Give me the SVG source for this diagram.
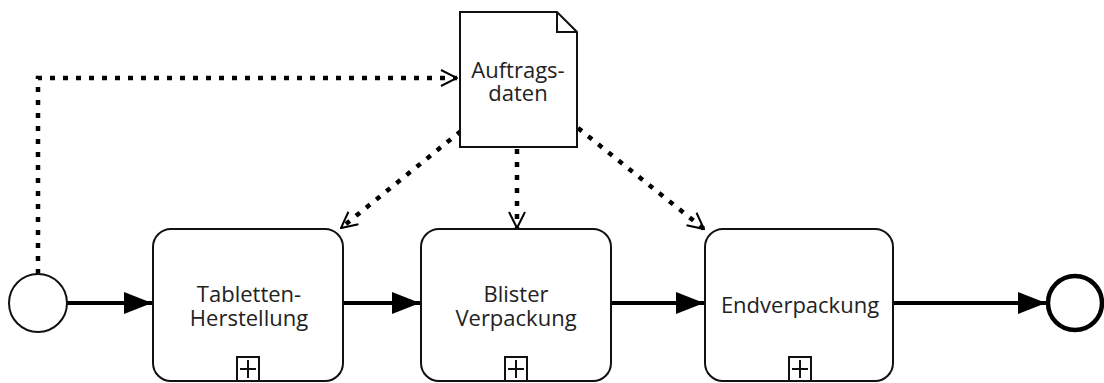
<svg xmlns="http://www.w3.org/2000/svg" width="1104" height="383" viewBox="0 0 1104 383">
<style>
.task{fill:#fff;stroke:#111;stroke-width:2}
.lbl{font-family:"Open Sans","Noto Sans",sans-serif;font-size:22px;fill:#222;text-anchor:middle}
.seq{fill:none;stroke:#000;stroke-width:4}
.assoc{fill:none;stroke:#000;stroke-width:4.5;stroke-dasharray:5 8}
.mk{fill:#fff;stroke:#111;stroke-width:2}
</style>
<defs>
<marker id="fill" viewBox="0 0 28 22" refX="28" refY="11" markerWidth="28" markerHeight="22" markerUnits="userSpaceOnUse" orient="auto">
<path d="M0,0 L28,11 L0,22 Z" fill="#000"/>
</marker>
<marker id="open" viewBox="0 0 18 18" refX="17" refY="9" markerWidth="18" markerHeight="18" markerUnits="userSpaceOnUse" orient="auto">
<path d="M1,1 L17,9 L1,17" fill="none" stroke="#000" stroke-width="2"/>
</marker>
</defs>
<g id="connectors">
<path class="assoc" d="M38,274 L38,78 L457,78" marker-end="url(#open)"/>
<path class="assoc" d="M461,131 L341,228" marker-end="url(#open)"/>
<path class="assoc" d="M517,149 L517,228" marker-end="url(#open)"/>
<path class="assoc" d="M578,128 L704,229" marker-end="url(#open)"/>
<path class="seq" d="M67,303 L152,303" marker-end="url(#fill)"/>
<path class="seq" d="M344,303 L420,303" marker-end="url(#fill)"/>
<path class="seq" d="M612,303 L704,303" marker-end="url(#fill)"/>
<path class="seq" d="M894,303 L1046,303" marker-end="url(#fill)"/>
</g>
<g id="start">
<circle cx="38" cy="303" r="29" fill="#fff" stroke="#111" stroke-width="2"/>
</g>
<g id="end">
<circle cx="1075" cy="303" r="27" fill="#fff" stroke="#000" stroke-width="4.5"/>
</g>
<g id="data">
<path d="M460,12 L557,12 L577,32 L577,147 L460,147 Z" fill="#fff" stroke="#111" stroke-width="2"/>
<path d="M557,12 L557,32 L577,32" fill="none" stroke="#111" stroke-width="2"/>
<text class="lbl" x="518" y="78">Auftrags-</text>
<text class="lbl" x="518" y="101">daten</text>
</g>
<g id="task1">
<rect class="task" x="153" y="229" width="190" height="152" rx="18"/>
<text class="lbl" x="249" y="302">Tabletten-</text>
<text class="lbl" x="249" y="326">Herstellung</text>
<rect class="mk" x="237" y="357" width="22" height="24"/>
<path d="M248,360 V378 M240,369 H256" stroke="#111" stroke-width="2"/>
</g>
<g id="task2">
<rect class="task" x="421" y="229" width="190" height="152" rx="18"/>
<text class="lbl" x="516" y="302">Blister</text>
<text class="lbl" x="516" y="326">Verpackung</text>
<rect class="mk" x="505" y="357" width="22" height="24"/>
<path d="M516,360 V378 M508,369 H524" stroke="#111" stroke-width="2"/>
</g>
<g id="task3">
<rect class="task" x="705" y="229" width="188" height="152" rx="18"/>
<text class="lbl" x="800" y="313">Endverpackung</text>
<rect class="mk" x="789" y="357" width="22" height="24"/>
<path d="M800,360 V378 M792,369 H808" stroke="#111" stroke-width="2"/>
</g>
</svg>
